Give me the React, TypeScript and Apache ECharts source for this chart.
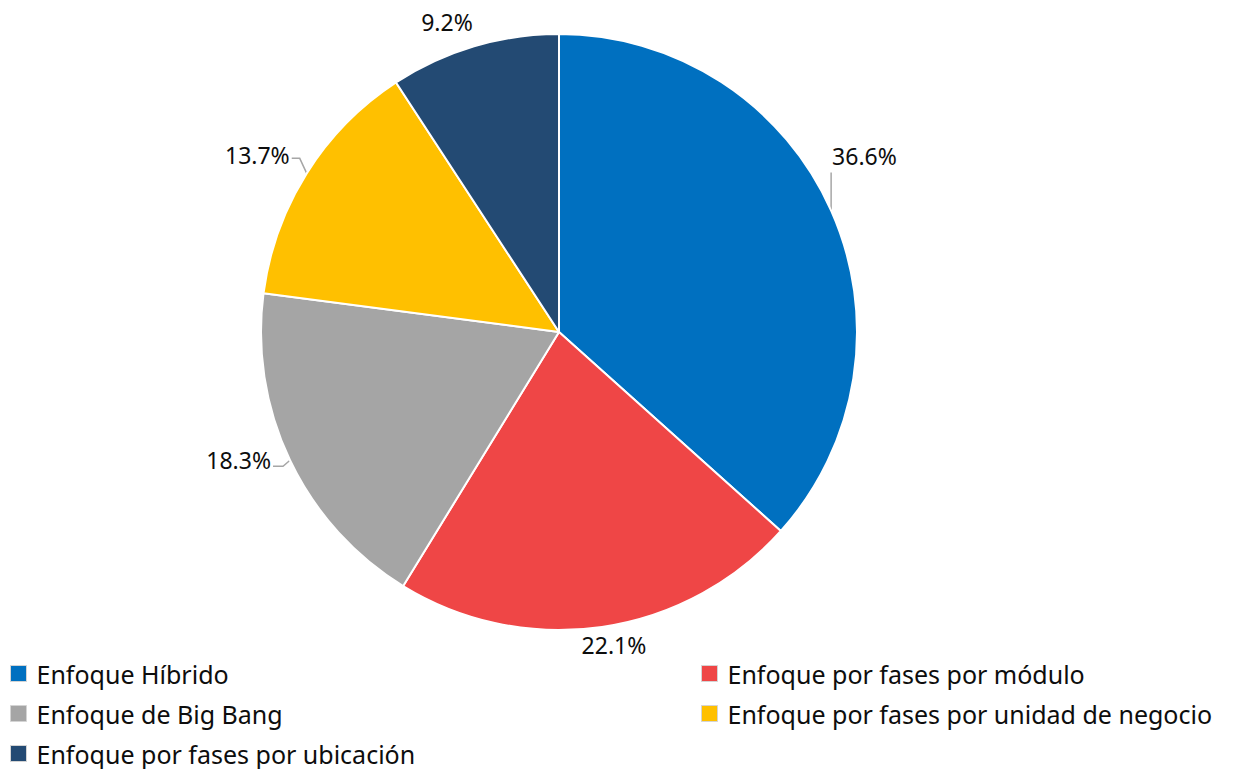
import React, { useEffect, useRef } from "react";
import * as echarts from "echarts";

const categories = [
  "Enfoque Híbrido",
  "Enfoque por fases por módulo",
  "Enfoque de Big Bang",
  "Enfoque por fases por unidad de negocio",
  "Enfoque por fases por ubicación",
];
const values = [36.6, 22.1, 18.3, 13.7, 9.2];
const colors = ["#0070C0", "#EF4646", "#A5A5A5", "#FFC000", "#234A73"];
const legendLeft = ["Enfoque Híbrido", "Enfoque de Big Bang", "Enfoque por fases por ubicación"];
const legendRight = ["Enfoque por fases por módulo", "Enfoque por fases por unidad de negocio"];

const FONT = "Noto Sans";
const CX = 559;
const CY = 332;
const R = 298;

// label placement relative to the slice's outer edge point (Excel-like layout)
const labelPlacement = [
  { dx: 1, dy: -55, align: "left", line: [[0, -38], [0, -38]] },
  { dx: 12, dy: 18, align: "center", line: null },
  { dx: -19, dy: 0, align: "right", line: [[-7, 6], [-17, 6]] },
  { dx: -17, dy: -18, align: "right", line: [[-7, -15], [-15, -15]] },
  { dx: -27, dy: -24, align: "center", line: null },
];

function edgePoint(i: number) {
  const total = values.reduce((a, b) => a + b, 0);
  let cum = 0;
  for (let k = 0; k < i; k++) cum += values[k];
  const frac = (cum + values[i] / 2) / total;
  const ang = frac * Math.PI * 2;
  return [CX + R * Math.sin(ang), CY - R * Math.cos(ang)];
}

export default function App() {
  const ref = useRef<HTMLDivElement>(null);
  useEffect(() => {
    if (!ref.current) return;
    const chart = echarts.init(ref.current, undefined, { renderer: "svg" });
    const legendCommon = {
      orient: "vertical" as const,
      icon: "rect",
      itemWidth: 16,
      itemHeight: 16,
      itemGap: 15,
      padding: 0,
      height: 108,
      textStyle: { fontFamily: FONT, fontSize: 25, color: "#0d0d0d", padding: [0, 0, 0, 5] },
      itemStyle: { borderColor: "#D4D4D4", borderWidth: 1 },
      selectedMode: false,
    };
    chart.setOption({
      animation: false,
      color: colors,
      legend: [
        { ...legendCommon, data: legendLeft, left: 10, top: 661 },
        { ...legendCommon, data: legendRight, left: 701, top: 661 },
      ],
      series: [
        {
          type: "pie",
          center: [CX, CY],
          radius: [0, R],
          startAngle: 90,
          clockwise: true,
          data: categories.map((c, i) => ({
            name: c,
            value: values[i],
            labelLine: { show: !!labelPlacement[i].line },
          })),
          itemStyle: { borderColor: "#fff", borderWidth: 2 },
          label: {
            show: true,
            position: "outside",
            formatter: (p: any) => p.value.toFixed(1) + "%",
            fontFamily: FONT,
            fontSize: 23,
            color: "#0d0d0d",
          },
          labelLine: {
            show: true,
            length: 10,
            length2: 8,
            lineStyle: { color: "#A6A6A6", width: 1.5 },
          },
          labelLayout: (p: any) => {
            const i = p.dataIndex;
            const pl = labelPlacement[i];
            const [ex, ey] = edgePoint(i);
            const res: any = {
              x: ex + pl.dx,
              y: ey + pl.dy,
              align: pl.align,
              verticalAlign: "middle",
            };
            if (pl.line) {
              res.labelLinePoints = [
                [ex, ey],
                [ex + pl.line[0][0], ey + pl.line[0][1]],
                [ex + pl.line[1][0], ey + pl.line[1][1]],
              ];
            }
            return res;
          },
        },
      ],
    });
    return () => chart.dispose();
  }, []);
  return (
    <div
      ref={ref}
      style={{ position: "absolute", left: 0, top: 0, width: 1248, height: 769, background: "#fff" }}
    />
  );
}
